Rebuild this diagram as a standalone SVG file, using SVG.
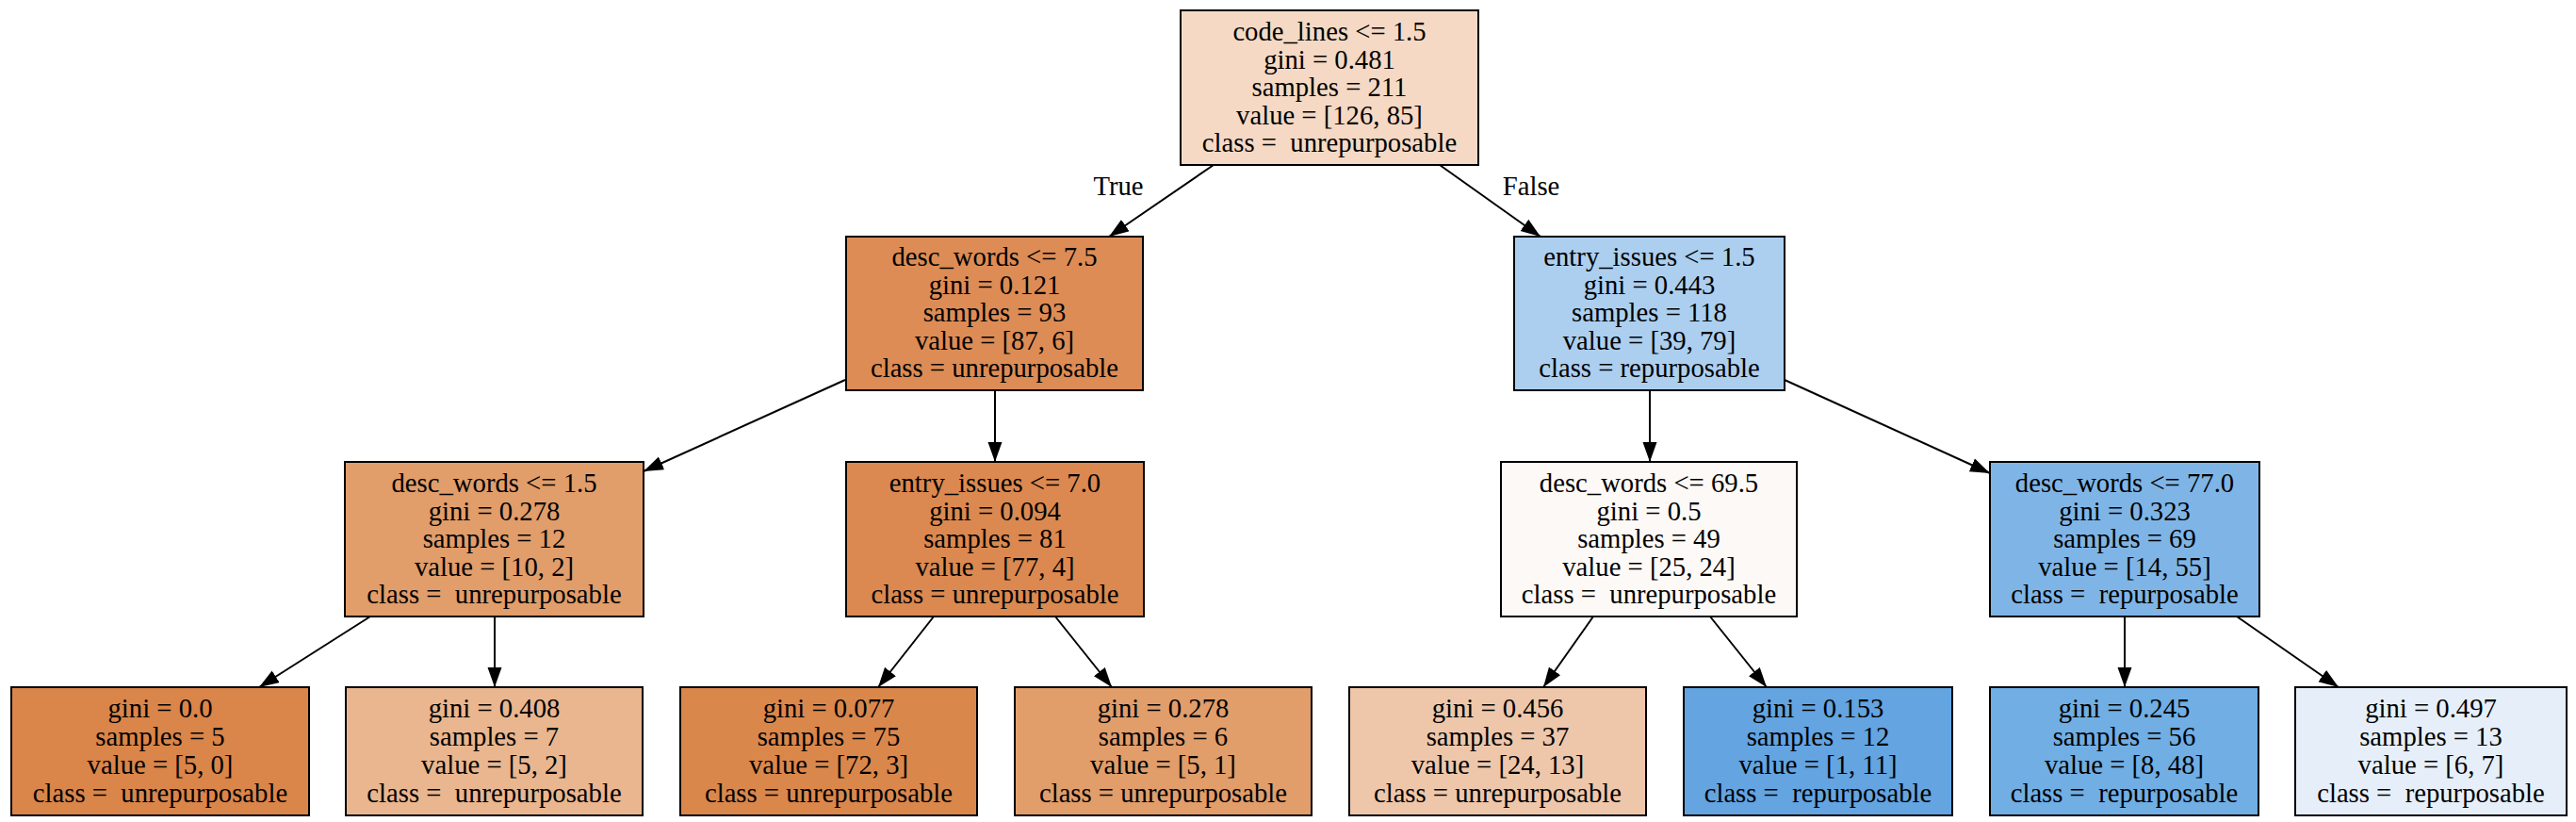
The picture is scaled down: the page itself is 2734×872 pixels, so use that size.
<svg xmlns="http://www.w3.org/2000/svg" width="2734" height="872" viewBox="0 0 2734 872">
<defs>
<marker id="ah" markerUnits="userSpaceOnUse" markerWidth="22" markerHeight="16" refX="21" refY="7.5" orient="auto">
<path d="M0,0 L21,7.5 L0,15 Z" fill="#000"/>
</marker>
<style>
.n rect{stroke:#000;stroke-width:2}
text{font-family:"Liberation Serif","Times New Roman",serif;font-size:28.7px;fill:#000;text-anchor:middle;white-space:pre}
.e line{stroke:#000;stroke-width:2;marker-end:url(#ah)}
</style>
</defs>
<rect width="2734" height="872" fill="#fff"/>
<g id="edges" class="e">
<line x1="1288" y1="175" x2="1177" y2="251"/>
<line x1="1528" y1="175" x2="1635" y2="251"/>
<line x1="897" y1="403" x2="683" y2="500"/>
<line x1="1056" y1="414" x2="1056" y2="490"/>
<line x1="1751" y1="414" x2="1751" y2="490"/>
<line x1="1894" y1="403" x2="2112" y2="502"/>
<line x1="393" y1="654" x2="275" y2="729"/>
<line x1="525" y1="654" x2="525" y2="729"/>
<line x1="991" y1="654" x2="932" y2="729"/>
<line x1="1120" y1="654" x2="1180" y2="729"/>
<line x1="1691" y1="654" x2="1638" y2="729"/>
<line x1="1815" y1="654" x2="1875" y2="729"/>
<line x1="2255" y1="654" x2="2255" y2="729"/>
<line x1="2374" y1="654" x2="2482" y2="729"/>
<text x="1187" y="207">True</text>
<text x="1625" y="207">False</text>
</g>
<g id="n0" class="n">
<rect x="1253" y="11" width="316" height="164" fill="#f5d9c4"/>
<text x="1411" y="43">code_lines &lt;= 1.5</text>
<text x="1411" y="72.5">gini = 0.481</text>
<text x="1411" y="102">samples = 211</text>
<text x="1411" y="131.5">value = [126, 85]</text>
<text x="1411" y="161">class =  unrepurposable</text>
</g>
<g id="n1" class="n">
<rect x="898" y="251" width="315" height="163" fill="#dd8c55"/>
<text x="1055.5" y="282">desc_words &lt;= 7.5</text>
<text x="1055.5" y="311.5">gini = 0.121</text>
<text x="1055.5" y="341">samples = 93</text>
<text x="1055.5" y="370.5">value = [87, 6]</text>
<text x="1055.5" y="400">class = unrepurposable</text>
</g>
<g id="n8" class="n">
<rect x="1607" y="251" width="287" height="163" fill="#accff0"/>
<text x="1750.5" y="282">entry_issues &lt;= 1.5</text>
<text x="1750.5" y="311.5">gini = 0.443</text>
<text x="1750.5" y="341">samples = 118</text>
<text x="1750.5" y="370.5">value = [39, 79]</text>
<text x="1750.5" y="400">class = repurposable</text>
</g>
<g id="n2" class="n">
<rect x="366" y="490" width="317" height="164" fill="#e19d6a"/>
<text x="524.5" y="522">desc_words &lt;= 1.5</text>
<text x="524.5" y="551.5">gini = 0.278</text>
<text x="524.5" y="581">samples = 12</text>
<text x="524.5" y="610.5">value = [10, 2]</text>
<text x="524.5" y="640">class =  unrepurposable</text>
</g>
<g id="n5" class="n">
<rect x="898" y="490" width="316" height="164" fill="#db8950"/>
<text x="1056" y="522">entry_issues &lt;= 7.0</text>
<text x="1056" y="551.5">gini = 0.094</text>
<text x="1056" y="581">samples = 81</text>
<text x="1056" y="610.5">value = [77, 4]</text>
<text x="1056" y="640">class = unrepurposable</text>
</g>
<g id="n9" class="n">
<rect x="1593" y="490" width="314" height="164" fill="#fdf9f6"/>
<text x="1750" y="522">desc_words &lt;= 69.5</text>
<text x="1750" y="551.5">gini = 0.5</text>
<text x="1750" y="581">samples = 49</text>
<text x="1750" y="610.5">value = [25, 24]</text>
<text x="1750" y="640">class =  unrepurposable</text>
</g>
<g id="n12" class="n">
<rect x="2112" y="490" width="286" height="164" fill="#7fb5e6"/>
<text x="2255" y="522">desc_words &lt;= 77.0</text>
<text x="2255" y="551.5">gini = 0.323</text>
<text x="2255" y="581">samples = 69</text>
<text x="2255" y="610.5">value = [14, 55]</text>
<text x="2255" y="640">class =  repurposable</text>
</g>
<g id="n3" class="n">
<rect x="12" y="729" width="316" height="136" fill="#da8549"/>
<text x="170" y="761">gini = 0.0</text>
<text x="170" y="791">samples = 5</text>
<text x="170" y="821">value = [5, 0]</text>
<text x="170" y="851">class =  unrepurposable</text>
</g>
<g id="n4" class="n">
<rect x="367" y="729" width="315" height="136" fill="#e9b68f"/>
<text x="524.5" y="761">gini = 0.408</text>
<text x="524.5" y="791">samples = 7</text>
<text x="524.5" y="821">value = [5, 2]</text>
<text x="524.5" y="851">class =  unrepurposable</text>
</g>
<g id="n6" class="n">
<rect x="722" y="729" width="315" height="136" fill="#da874c"/>
<text x="879.5" y="761">gini = 0.077</text>
<text x="879.5" y="791">samples = 75</text>
<text x="879.5" y="821">value = [72, 3]</text>
<text x="879.5" y="851">class = unrepurposable</text>
</g>
<g id="n7" class="n">
<rect x="1077" y="729" width="315" height="136" fill="#e19d6a"/>
<text x="1234.5" y="761">gini = 0.278</text>
<text x="1234.5" y="791">samples = 6</text>
<text x="1234.5" y="821">value = [5, 1]</text>
<text x="1234.5" y="851">class = unrepurposable</text>
</g>
<g id="n10" class="n">
<rect x="1432" y="729" width="315" height="136" fill="#eec7ab"/>
<text x="1589.5" y="761">gini = 0.456</text>
<text x="1589.5" y="791">samples = 37</text>
<text x="1589.5" y="821">value = [24, 13]</text>
<text x="1589.5" y="851">class = unrepurposable</text>
</g>
<g id="n11" class="n">
<rect x="1787" y="729" width="285" height="136" fill="#63a4e1"/>
<text x="1929.5" y="761">gini = 0.153</text>
<text x="1929.5" y="791">samples = 12</text>
<text x="1929.5" y="821">value = [1, 11]</text>
<text x="1929.5" y="851">class =  repurposable</text>
</g>
<g id="n13" class="n">
<rect x="2112" y="729" width="285" height="136" fill="#70aee4"/>
<text x="2254.5" y="761">gini = 0.245</text>
<text x="2254.5" y="791">samples = 56</text>
<text x="2254.5" y="821">value = [8, 48]</text>
<text x="2254.5" y="851">class =  repurposable</text>
</g>
<g id="n14" class="n">
<rect x="2436" y="729" width="288" height="136" fill="#e6eff9"/>
<text x="2580" y="761">gini = 0.497</text>
<text x="2580" y="791">samples = 13</text>
<text x="2580" y="821">value = [6, 7]</text>
<text x="2580" y="851">class =  repurposable</text>
</g>
</svg>
